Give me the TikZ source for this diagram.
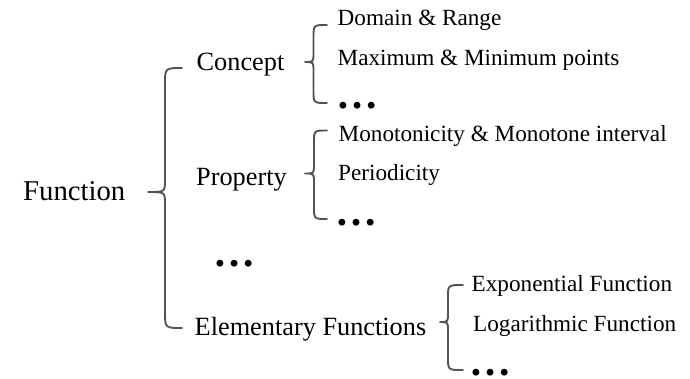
\documentclass[tikz,border=0pt]{standalone}
\usepackage{fontspec}
\setmainfont{Liberation Serif}
\tikzset{
  brace line/.style={draw=bracegray, line width=1.9pt, line cap=round, line join=round},
  top item/.style={anchor=base west, inner sep=0pt, font=\fontsize{28.7}{30}\selectfont},
  mid item/.style={anchor=base west, inner sep=0pt, font=\fontsize{26.3}{28}\selectfont},
  leaf item/.style={anchor=base west, inner sep=0pt, font=\fontsize{23.2}{25}\selectfont},
  more dots/.style={anchor=base west, inner sep=0pt, font=\fontsize{42}{42}\selectfont\bfseries},
}
\definecolor{bracegray}{HTML}{545454}
% curly brace: end x, spine x, tip x, top y, tip y, bottom y, end radius, tip radius
\newcommand{\curlybrace}[8]{%
  \path[brace line] (#1,#4) .. controls (#2,#4) .. (#2,{#4+#7})
    -- (#2,{#5-#8}) .. controls (#2,#5) .. (#3,#5)
    .. controls (#2,#5) .. (#2,{#5+#8})
    -- (#2,{#6-#7}) .. controls (#2,#6) .. (#1,#6);}
\begin{document}
\begin{tikzpicture}[x=1pt, y=-1pt]
  \useasboundingbox (0,0) rectangle (690,378);

  % root
  \node[top item] (function) at (23,200.5) {Function};

  % second level
  \node[mid item] (concept) at (196.5,70) {Concept};
  \node[mid item] (property) at (196,185) {Property};
  \node[more dots] (moretopics) at (213,266) {…};
  \node[mid item] (elementary) at (194.5,335.5) {Elementary Functions};

  % leaves of Concept
  \node[leaf item] (domain) at (337.5,25) {Domain \& Range};
  \node[leaf item] (extrema) at (337.5,65) {Maximum \& Minimum points};
  \node[more dots] (conceptmore) at (336,108) {…};

  % leaves of Property
  \node[leaf item] (monotone) at (338.5,141) {Monotonicity \& Monotone interval};
  \node[leaf item] (periodic) at (338,180) {Periodicity};
  \node[more dots] (propertymore) at (335,225) {…};

  % leaves of Elementary Functions
  \node[leaf item] (exponential) at (471.5,291) {Exponential Function};
  \node[leaf item] (logarithmic) at (473,331.5) {Logarithmic Function};
  \node[more dots] (elementarymore) at (469,375) {…};

  % braces
  \curlybrace{182}{165}{148}{68}{192}{328}{16}{12}
  \curlybrace{327}{313.5}{305}{25}{62}{103}{12}{9}
  \curlybrace{327}{314}{305}{130.5}{173.5}{219}{12}{9}
  \curlybrace{463}{448}{440}{285}{322}{370}{12}{9}
\end{tikzpicture}
\end{document}
